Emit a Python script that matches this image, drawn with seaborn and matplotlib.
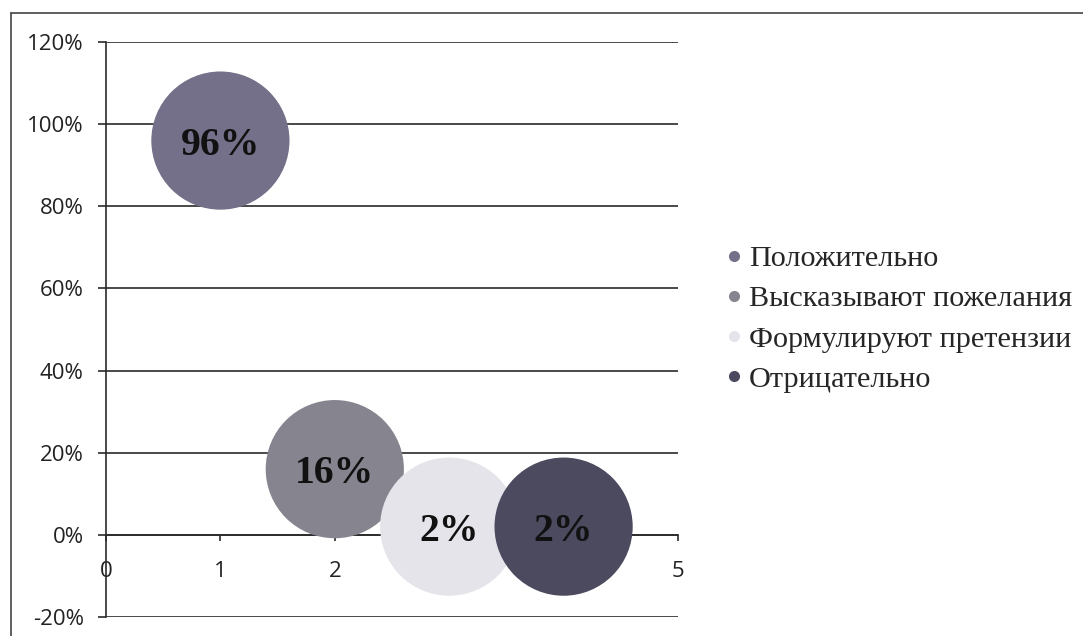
import matplotlib
matplotlib.use("Agg")
import matplotlib.pyplot as plt
import seaborn as sns
import pandas as pd
from matplotlib.lines import Line2D
from matplotlib.ticker import FuncFormatter

# ---- data ----
categories = ["Положительно", "Высказывают пожелания", "Формулируют претензии", "Отрицательно"]
x_values = [1, 2, 3, 4]
y_values = [96, 16, 2, 2]
bubble_labels = ["96%", "16%", "2%", "2%"]
y_ticks = [-20, 0, 20, 40, 60, 80, 100, 120]
x_ticks = [0, 1, 2, 3, 4, 5]
colors = ["#75708a", "#86848f", "#e4e4ea", "#4b4a5f"]

sns.set_theme(style="white")
plt.rcParams["font.family"] = ["Open Sans", "DejaVu Sans"]

fig = plt.figure(figsize=(10.83, 6.36), dpi=100)
ax = fig.add_axes([106 / 1083, 1 - 617 / 636, (678 - 106) / 1083, (617 - 42) / 636])

df = pd.DataFrame({"x": x_values, "y": y_values, "cat": categories})
sns.scatterplot(data=df, x="x", y="y", hue="cat", palette=colors, s=9900,
                legend=False, linewidth=0, edgecolor="none", alpha=1, ax=ax, zorder=3)

for xv, yv, lab in zip(x_values, y_values, bubble_labels):
    ax.text(xv, yv, lab, ha="center", va="center_baseline", fontsize=28.5,
            fontweight="bold", family=["Liberation Serif", "DejaVu Serif"],
            color="#111111", zorder=5)

ax.set_xlim(0, 5)
ax.set_ylim(-20, 120)
ax.set_xticks(x_ticks)
ax.set_yticks(y_ticks)
ax.yaxis.set_major_formatter(FuncFormatter(lambda v, p: f"{v:.0f}%"))
ax.set_xlabel("")
ax.set_ylabel("")

ax.yaxis.grid(True, color="#2a2a2a", linewidth=1.2, zorder=1)
ax.xaxis.grid(False)
for s in ["top", "right"]:
    ax.spines[s].set_visible(False)
ax.spines["left"].set_color("#2a2a2a")
ax.spines["left"].set_linewidth(1.2)
ax.spines["bottom"].set_position(("data", 0))
ax.spines["bottom"].set_color("#2a2a2a")
ax.spines["bottom"].set_linewidth(1.2)
ax.set_axisbelow(True)

ax.tick_params(axis="y", left=True, length=6, width=1.2, color="#2a2a2a",
               pad=10, labelsize=16, labelcolor="#222222")
ax.tick_params(axis="x", bottom=True, direction="out", length=4, width=1.2,
               color="#2a2a2a", pad=15, labelsize=16, labelcolor="#222222")

handles = [Line2D([0], [0], marker="o", linestyle="none", markersize=8,
                  markerfacecolor=c, markeredgecolor="none") for c in colors]
fig.legend(handles, categories, loc="center left", bbox_to_anchor=(726 / 1083, 1 - 319 / 636),
           frameon=False, borderpad=0, borderaxespad=0, handlelength=0.5,
           handletextpad=0.25, labelspacing=0.43,
           prop={"family": ["Liberation Serif", "DejaVu Serif"], "size": 21.8})

# scanned page border (top and left)
fig.add_artist(Line2D([11 / 1083, 1.0], [1 - 13 / 636, 1 - 13 / 636],
                      transform=fig.transFigure, color="#444444", linewidth=1.2))
fig.add_artist(Line2D([11 / 1083, 11 / 1083], [0, 1 - 13 / 636],
                      transform=fig.transFigure, color="#444444", linewidth=1.2))

fig.savefig("out.png", dpi=100, facecolor="white")
